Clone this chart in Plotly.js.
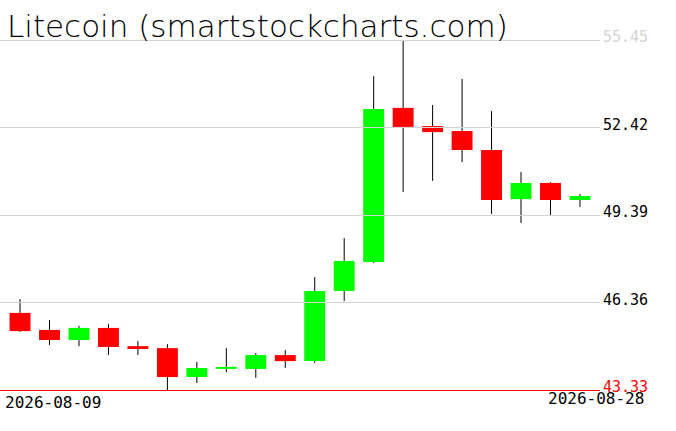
<!DOCTYPE html>
<html>
<head>
<meta charset="utf-8">
<script src="https://cdn.plot.ly/plotly-3.0.1.min.js"></script>
<style>html,body{margin:0;padding:0;background:#fff;}#chart{width:676px;height:431px;}</style>
</head>
<body>
<div id="chart"></div>
<script>
var dates = ["2026-08-09","2026-08-10","2026-08-11","2026-08-12","2026-08-13","2026-08-14","2026-08-15","2026-08-16","2026-08-17","2026-08-18",
             "2026-08-19","2026-08-20","2026-08-21","2026-08-22","2026-08-23","2026-08-24","2026-08-25","2026-08-26","2026-08-27","2026-08-28"];
var openP  = [46.00,45.41,45.06,45.48,44.85,44.78,43.78,44.06,44.06,44.54,44.33,46.76,47.76,53.10,52.47,52.30,51.64,49.94,50.50,49.91];
var highP  = [46.48,45.75,45.55,45.62,45.03,44.92,44.30,44.78,44.61,44.71,47.24,48.59,54.20,55.45,53.20,54.10,52.99,50.88,50.53,50.12];
var lowP   = [45.34,44.89,44.85,44.54,44.54,43.33,43.57,43.95,43.75,44.09,44.27,46.41,47.73,50.19,50.57,51.22,49.42,49.11,49.39,49.67];
var closeP = [45.37,45.06,45.48,44.82,44.75,43.78,44.09,44.13,44.54,44.33,46.76,47.80,53.06,52.44,52.26,51.64,49.91,50.50,49.91,50.05];
var yTicks = [43.33,46.36,49.39,52.42,55.45];
var yTickLabels = ["43.33","46.36","49.39","52.42","55.45"];
var titleText = "Litecoin (smartstockcharts.com)";

var idx = dates.map(function(d,i){return i;});
var wx = [], wy = [];
idx.forEach(function(i){
  var top = Math.max(openP[i], closeP[i]), bot = Math.min(openP[i], closeP[i]);
  wx.push(i, i, null, i, i, null);
  wy.push(highP[i], top, null, bot, lowP[i], null);
});
var wicks = {x: wx, y: wy, type: 'scatter', mode: 'lines', line: {color: '#000', width: 1},
             hoverinfo: 'skip', cliponaxis: false, showlegend: false};
var bodies = {
  x: idx,
  base: idx.map(function(i){return Math.min(openP[i], closeP[i]);}),
  y: idx.map(function(i){return Math.max(Math.abs(closeP[i]-openP[i]), 0.04);}),
  type: 'bar', width: 0.71,
  marker: {color: idx.map(function(i){return closeP[i] >= openP[i] ? '#00ff00' : '#ff0000';}), line: {width: 0}},
  hoverinfo: 'skip', showlegend: false, cliponaxis: false
};

// half-pixel nudge so the 1px lines render crisp
var nudge = [-0.5, 0, -0.5, 0, -0.5];
var shapes = yTicks.map(function(v, k){
  return {type: 'line', xref: 'paper', x0: 0, x1: 1, yref: 'y', ysizemode: 'pixel', yanchor: v,
          y0: nudge[k], y1: nudge[k], layer: 'above',
          line: {color: k === 0 ? '#ff0000' : '#d3d3d3', width: 1}};
});
var annotations = yTicks.map(function(v, k){
  var col = k === 0 ? '#ff0000' : (k === yTicks.length-1 ? '#d3d3d3' : '#000000');
  return {xref: 'paper', x: 1, xanchor: 'left', xshift: 1, yref: 'y', y: v, yanchor: 'middle', yshift: 3,
          text: yTickLabels[k], showarrow: false, font: {family: 'DejaVu Sans Mono', size: 15, color: col}};
});
annotations.push({xref: 'paper', x: 0, xanchor: 'left', xshift: 3, yref: 'paper', y: 0, yanchor: 'top', yshift: 0,
  text: dates[0], showarrow: false, font: {family: 'DejaVu Sans Mono', size: 16, color: '#000'}});
annotations.push({xref: 'paper', x: 646/600, xanchor: 'right', yref: 'paper', y: 0, yanchor: 'top', yshift: 4,
  text: dates[dates.length-1], showarrow: false, font: {family: 'DejaVu Sans Mono', size: 16, color: '#000'}});
annotations.push({xref: 'paper', x: 0, xanchor: 'left', xshift: 5, yref: 'paper', y: 1, yanchor: 'bottom', yshift: -6,
  text: titleText, showarrow: false, font: {family: 'DejaVu Sans', weight: 200, size: 31, color: '#000'}});

var layout = {
  width: 676, height: 431,
  margin: {l: 0, r: 76, t: 40, b: 40, pad: 0},
  paper_bgcolor: '#fff', plot_bgcolor: '#fff',
  showlegend: false, hovermode: false,
  xaxis: {range: [-0.68, 19.68], showgrid: false, zeroline: false, showticklabels: false, showline: false, ticks: ''},
  yaxis: {range: [43.2954, 55.45], showgrid: false, zeroline: false, showticklabels: false, showline: false, ticks: ''},
  shapes: shapes,
  annotations: annotations
};
Plotly.newPlot('chart', [wicks, bodies], layout, {displayModeBar: false, staticPlot: true});
</script>
</body>
</html>
